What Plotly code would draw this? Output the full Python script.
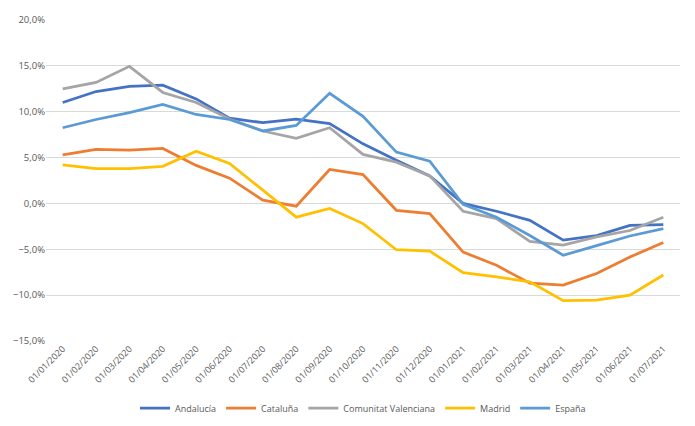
import plotly.graph_objects as go

categories = ["01/01/2020", "01/02/2020", "01/03/2020", "01/04/2020", "01/05/2020", "01/06/2020",
              "01/07/2020", "01/08/2020", "01/09/2020", "01/10/2020", "01/11/2020", "01/12/2020",
              "01/01/2021", "01/02/2021", "01/03/2021", "01/04/2021", "01/05/2021", "01/06/2021",
              "01/07/2021"]

andalucia = [11.0, 12.2, 12.75, 12.9, 11.4, 9.3, 8.8, 9.2, 8.7, 6.5, 4.7, 3.0,
             0.0, -0.85, -1.85, -4.0, -3.5, -2.4, -2.3]
cataluna = [5.3, 5.9, 5.8, 6.0, 4.15, 2.75, 0.35, -0.3, 3.7, 3.15, -0.75, -1.1,
            -5.3, -6.75, -8.7, -8.9, -7.65, -5.85, -4.25]
valenciana = [12.5, 13.2, 14.95, 12.1, 11.0, 9.2, 7.9, 7.1, 8.25, 5.35, 4.5, 3.0,
              -0.85, -1.65, -4.15, -4.55, -3.65, -2.95, -1.5]
madrid = [4.2, 3.8, 3.8, 4.05, 5.7, 4.35, 1.45, -1.5, -0.55, -2.2, -5.05, -5.2,
          -7.55, -8.0, -8.55, -10.6, -10.55, -10.0, -7.8]
espana = [8.25, 9.15, 9.9, 10.8, 9.7, 9.15, 7.9, 8.5, 12.0, 9.5, 5.6, 4.6,
          -0.1, -1.5, -3.5, -5.65, -4.6, -3.55, -2.75]

series = [
    ("Andalucía", andalucia, "#4472C4"),
    ("Cataluña", cataluna, "#ED7D31"),
    ("Comunitat Valenciana", valenciana, "#A5A5A5"),
    ("Madrid", madrid, "#FFC000"),
    ("España", espana, "#5B9BD5"),
]

y_tickvals = [-0.15, -0.10, -0.05, 0.0, 0.05, 0.10, 0.15, 0.20]

fig = go.Figure()
for name, vals, color in series:
    fig.add_trace(go.Scatter(
        x=categories, y=[v / 100 for v in vals], mode="lines", name=name,
        line=dict(color=color, width=2.75),
    ))

font_fam = "Open Sans, Liberation Sans, sans-serif"
n = len(categories)

fig.update_layout(
    width=687, height=418,
    margin=dict(l=38, r=15, t=12, b=85, autoexpand=False),
    paper_bgcolor="white", plot_bgcolor="white",
    separators=",.",
    font=dict(family=font_fam, size=9, color="#595959"),
    showlegend=True,
    legend=dict(orientation="h", x=0.5, xanchor="center", y=-0.209, yanchor="middle",
                font=dict(size=9, color="#595959"), itemwidth=30, tracegroupgap=0),
    xaxis=dict(type="category", range=[-0.5, n - 0.5], showgrid=False, showline=False,
               ticks="", tickangle=-45, tickfont=dict(size=9, color="#595959"),
               zeroline=False, automargin=False),
    yaxis=dict(range=[-0.15, 0.20], tickvals=y_tickvals, tickformat=".1%",
               showgrid=True, gridcolor="#D9D9D9", gridwidth=1, zeroline=False,
               showline=False, ticks="", tickfont=dict(size=9.5, color="#595959"),
               automargin=False),
    xaxis2=dict(overlaying="x", anchor="free", position=15 / 35, range=[-0.5, n - 0.5],
                tickmode="array", tickvals=[i - 0.5 for i in range(n + 1)],
                showticklabels=False, showline=True, linecolor="#D9D9D9", linewidth=1,
                ticks="outside", ticklen=5, tickcolor="#D9D9D9", showgrid=False,
                zeroline=False, automargin=False),
)

fig.write_html("out.html")
